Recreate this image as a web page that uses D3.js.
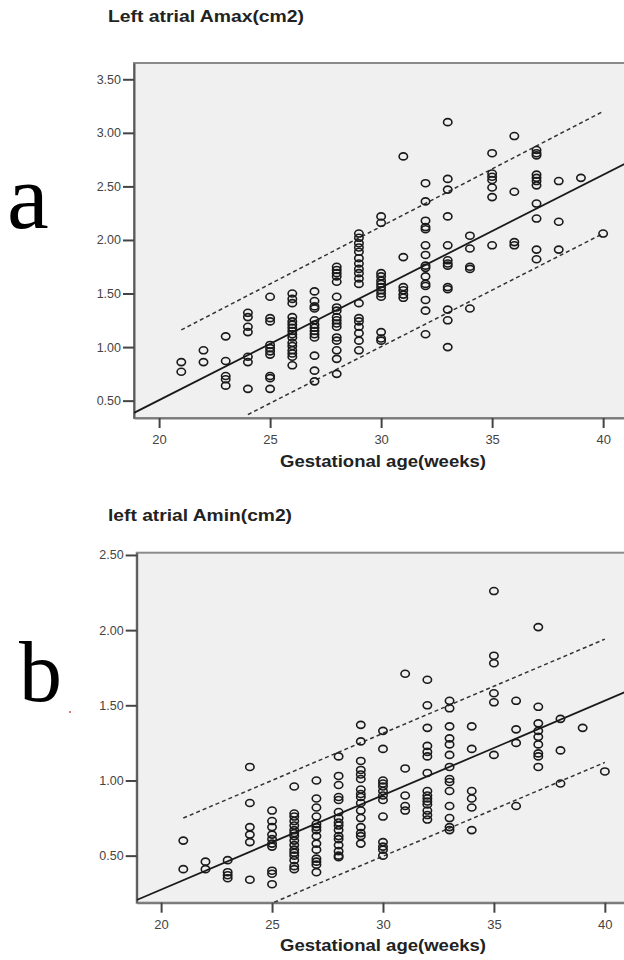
<!DOCTYPE html>
<html>
<head>
<meta charset="utf-8">
<script src="https://cdn.jsdelivr.net/npm/d3@7"></script>
<style>
  body { margin: 0; background: #fff; }
  svg { display: block; }
  .tick text { font-family: "Liberation Sans", Arial, sans-serif; fill: #444; }
</style>
</head>
<body>
<div id="chart"></div>
<script>
const amaxPoints = [
  [21, [0.86, 0.77]],
  [22, [0.97, 0.86]],
  [23, [1.10, 0.87, 0.73, 0.70, 0.64]],
  [24, [1.32, 1.28, 1.19, 1.14, 0.91, 0.86, 0.61]],
  [25, [1.47, 1.27, 1.24, 1.02, 0.99, 0.96, 0.93, 0.73, 0.71, 0.61]],
  [26, [1.50, 1.45, 1.41, 1.28, 1.24, 1.21, 1.18, 1.15, 1.12, 1.09, 1.04, 1.01, 0.97, 0.94, 0.91, 0.83]],
  [27, [1.52, 1.43, 1.38, 1.36, 1.25, 1.21, 1.18, 1.15, 1.12, 1.09, 0.92, 0.78, 0.68]],
  [28, [1.75, 1.72, 1.69, 1.66, 1.61, 1.47, 1.37, 1.34, 1.28, 1.25, 1.22, 1.19, 1.09, 1.06, 0.97, 0.89, 0.75]],
  [29, [2.06, 2.02, 1.97, 1.93, 1.89, 1.83, 1.78, 1.73, 1.69, 1.64, 1.59, 1.41, 1.27, 1.24, 1.19, 1.13, 1.06, 0.97]],
  [30, [2.22, 2.16, 1.69, 1.66, 1.62, 1.59, 1.56, 1.53, 1.50, 1.47, 1.14, 1.08, 1.06]],
  [31, [2.78, 1.84, 1.56, 1.53, 1.49, 1.46]],
  [32, [2.53, 2.36, 2.18, 2.12, 2.10, 1.95, 1.86, 1.76, 1.74, 1.66, 1.59, 1.57, 1.44, 1.34, 1.12]],
  [33, [3.10, 2.57, 2.47, 2.22, 1.95, 1.81, 1.78, 1.76, 1.56, 1.54, 1.35, 1.25, 1.00]],
  [34, [2.04, 1.92, 1.75, 1.73, 1.36]],
  [35, [2.81, 2.62, 2.59, 2.56, 2.49, 2.40, 1.95]],
  [36, [2.97, 2.45, 1.98, 1.95]],
  [37, [2.84, 2.81, 2.79, 2.61, 2.58, 2.55, 2.51, 2.34, 2.20, 1.91, 1.82]],
  [38, [2.55, 2.17, 1.91]],
  [39, [2.58]],
  [40, [2.06]]
];
const aminPoints = [
  [21, [0.60, 0.41]],
  [22, [0.46, 0.41]],
  [23, [0.47, 0.39, 0.37, 0.35]],
  [24, [1.09, 0.85, 0.69, 0.64, 0.59, 0.34]],
  [25, [0.80, 0.73, 0.69, 0.64, 0.61, 0.58, 0.56, 0.40, 0.38, 0.31]],
  [26, [0.96, 0.78, 0.76, 0.73, 0.70, 0.67, 0.65, 0.63, 0.60, 0.57, 0.54, 0.52, 0.50, 0.47, 0.43, 0.41]],
  [27, [1.00, 0.88, 0.82, 0.76, 0.71, 0.69, 0.67, 0.63, 0.58, 0.54, 0.48, 0.46, 0.44, 0.39]],
  [28, [1.16, 1.03, 0.97, 0.89, 0.87, 0.79, 0.75, 0.72, 0.70, 0.67, 0.63, 0.61, 0.57, 0.53, 0.50, 0.49]],
  [29, [1.37, 1.26, 1.13, 1.07, 1.04, 1.01, 0.94, 0.91, 0.89, 0.85, 0.80, 0.75, 0.69, 0.65, 0.63, 0.58]],
  [30, [1.33, 1.21, 1.00, 0.98, 0.96, 0.93, 0.90, 0.87, 0.76, 0.59, 0.56, 0.54, 0.50]],
  [31, [1.71, 1.08, 0.90, 0.83, 0.80]],
  [32, [1.67, 1.50, 1.35, 1.23, 1.19, 1.16, 1.05, 0.93, 0.90, 0.88, 0.86, 0.84, 0.80, 0.77, 0.74]],
  [33, [1.53, 1.48, 1.36, 1.28, 1.24, 1.17, 1.09, 1.01, 0.99, 0.93, 0.83, 0.75, 0.69, 0.67]],
  [34, [1.36, 1.21, 0.93, 0.88, 0.82, 0.67]],
  [35, [2.26, 1.83, 1.78, 1.58, 1.52, 1.17]],
  [36, [1.53, 1.34, 1.25, 0.83]],
  [37, [2.02, 1.49, 1.38, 1.33, 1.29, 1.24, 1.18, 1.16, 1.09]],
  [38, [1.41, 1.20, 0.98]],
  [39, [1.35]],
  [40, [1.06]]
];

// fitted line and prediction limits (end points)
const fitA = [[18.87, 0.386], [41.3, 2.745]];
const upperA = [[21, 1.16], [40, 3.20]];
const lowerA = [[24, 0.37], [40, 2.06]];
const fitB = [[18.9, 0.205], [41.3, 1.612]];
const upperB = [[21, 0.75], [40, 1.94]];
const lowerB = [[25.1, 0.19], [40, 1.12]];

const xTicks = [20, 25, 30, 35, 40];
const yTicksA = [0.5, 1.0, 1.5, 2.0, 2.5, 3.0, 3.5];
const yTicksB = [0.5, 1.0, 1.5, 2.0, 2.5];

const svg = d3.select("#chart").append("svg")
    .attr("width", 624)
    .attr("height", 960)

function drawPanel(cfg) {
    const x = d3.scaleLinear().domain(cfg.xDomain).range([cfg.left, cfg.left + cfg.width])
    const y = d3.scaleLinear().domain(cfg.yDomain).range([cfg.top + cfg.height, cfg.top])
    const g = svg.append("g")

    g.append("rect")
        .attr("x", cfg.left).attr("y", cfg.top)
        .attr("width", cfg.width).attr("height", cfg.height)
        .attr("fill", "#f0f0f0")
        .attr("stroke", "#8a8a8a")
        .attr("stroke-width", 2)

    g.append("clipPath").attr("id", cfg.id)
        .append("rect")
        .attr("x", cfg.left).attr("y", cfg.top)
        .attr("width", cfg.width).attr("height", cfg.height)

    // axes
    const yAxis = g.append("g")
        .attr("transform", "translate(" + cfg.left + ",0)")
        .call(d3.axisLeft(y).tickValues(cfg.yTicks).tickFormat(d3.format(".2f"))
            .tickSize(11).tickSizeOuter(0).tickPadding(2))
    yAxis.select(".domain").attr("stroke", "#5a5a5a").attr("stroke-width", 2)
    yAxis.selectAll(".tick line").attr("stroke", "#444").attr("stroke-width", 2)
    yAxis.selectAll(".tick text").attr("font-size", 12.5)

    const xAxis = g.append("g")
        .attr("transform", "translate(0," + (cfg.top + cfg.height) + ")")
        .call(d3.axisBottom(x).tickValues(xTicks).tickSize(10).tickSizeOuter(0).tickPadding(7))
    xAxis.select(".domain").attr("stroke", "#7a7a7a").attr("stroke-width", 2)
    xAxis.selectAll(".tick line").attr("stroke", "#444").attr("stroke-width", 2)
    xAxis.selectAll(".tick text").attr("font-size", 13)

    // lines
    const line = d3.line().x(d => x(d[0])).y(d => y(d[1]))
    const lines = g.append("g").attr("clip-path", "url(#" + cfg.id + ")")
    lines.append("path").attr("d", line(cfg.fit))
        .attr("fill", "none").attr("stroke", "#1a1a1a").attr("stroke-width", 1.8)
    for (const lim of [cfg.upper, cfg.lower]) {
        lines.append("path").attr("d", line(lim))
            .attr("fill", "none").attr("stroke", "#333")
            .attr("stroke-width", 1.5).attr("stroke-dasharray", "4,3")
    }

    // points
    const pts = []
    for (const [wk, vals] of cfg.points) {
        for (const v of vals) pts.push([wk, v])
    }
    g.append("g").selectAll("ellipse")
        .data(pts)
        .join("ellipse")
        .attr("cx", d => x(d[0]))
        .attr("cy", d => y(d[1]))
        .attr("rx", 4.2)
        .attr("ry", 3.5)
        .attr("fill", "none")
        .attr("stroke", "#1a1a1a")
        .attr("stroke-width", 1.6)

    // texts
    g.append("text")
        .attr("x", 108).attr("y", cfg.titleY)
        .attr("font-family", "'Liberation Sans', Arial, sans-serif")
        .attr("font-weight", "bold").attr("font-size", 17)
        .attr("textLength", cfg.titleLen).attr("lengthAdjust", "spacingAndGlyphs")
        .attr("fill", "#222")
        .text(cfg.title)
    g.append("text")
        .attr("x", 280).attr("y", cfg.xLabelY)
        .attr("font-family", "'Liberation Sans', Arial, sans-serif")
        .attr("font-weight", "bold").attr("font-size", 17)
        .attr("textLength", 206).attr("lengthAdjust", "spacingAndGlyphs")
        .attr("fill", "#222")
        .text("Gestational age(weeks)")
    g.append("text")
        .attr("x", cfg.letterX).attr("y", cfg.letterY)
        .attr("font-family", "'Liberation Serif', 'Times New Roman', serif")
        .attr("font-size", cfg.letterSize)
        .attr("fill", "#000")
        .text(cfg.letter)
}

drawPanel({
    id: "clipA", points: amaxPoints, fit: fitA, upper: upperA, lower: lowerA,
    xDomain: [18.87, 41.3], yDomain: [0.338, 3.652], yTicks: yTicksA,
    left: 134, top: 63, width: 498, height: 355,
    title: "Left atrial Amax(cm2)", titleLen: 196, titleY: 22, xLabelY: 467,
    letter: "a", letterX: 7, letterY: 228, letterSize: 94
})
drawPanel({
    id: "clipB", points: aminPoints, fit: fitB, upper: upperB, lower: lowerB,
    xDomain: [18.9, 41.3], yDomain: [0.187, 2.515], yTicks: yTicksB,
    left: 136.7, top: 552.7, width: 497, height: 350,
    title: "left atrial Amin(cm2)", titleLen: 184, titleY: 521, xLabelY: 951,
    letter: "b", letterX: 19, letterY: 701, letterSize: 86
})

// small red speck left of panel b
svg.append("circle").attr("cx", 70).attr("cy", 712).attr("r", 0.9).attr("fill", "#e03030")
</script>
</body>
</html>
